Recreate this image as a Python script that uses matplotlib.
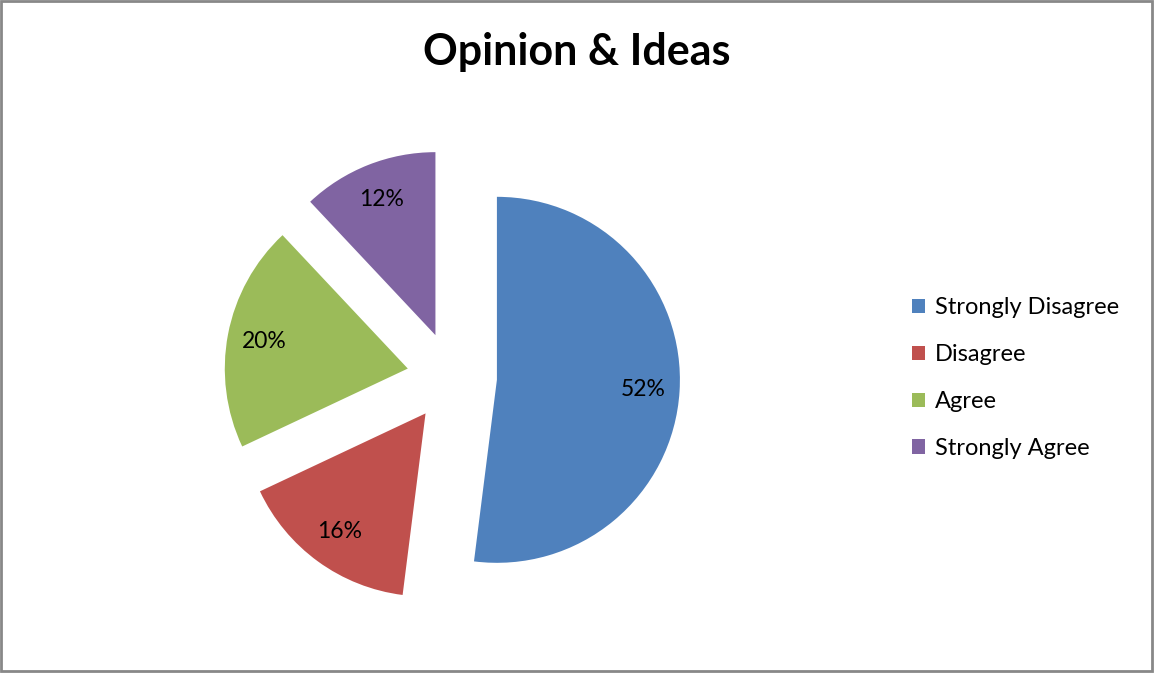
import matplotlib.pyplot as plt
from matplotlib.patches import Rectangle

# Datos
categorias = ["Strongly Disagree", "Disagree", "Agree", "Strongly Agree"]
valores = [52, 16, 20, 12]
colores = ["#4F81BD", "#C0504D", "#9BBB59", "#8064A2"]

plt.rcParams['font.family'] = ['Lato', 'DejaVu Sans']

W, H = 1155, 678
fig = plt.figure(figsize=(W / 100, H / 100), dpi=100)
ax = fig.add_axes([0, 0, 1, 1])

# borde gris del gráfico
ax.add_patch(Rectangle((1, H - 671), 1151, 670, fill=False, edgecolor="#888888", lw=2))

# explode va en unidades de datos (px), no en fracción del radio
wedges, _, autotexts = ax.pie(
    valores, colors=colores, startangle=90, counterclock=False,
    center=(452, H - 377), radius=183, explode=[45] * 4,
    autopct="%d%%", pctdistance=0.8,
    textprops={"fontsize": 16.5, "color": "black"},
    frame=True,
)
ax.set_xlim(0, W)
ax.set_ylim(0, H)
ax.set_aspect("equal")
ax.axis("off")

ax.text(577, H - 52, "Opinion & Ideas", ha="center", va="center",
        fontsize=31, fontweight="bold")

leg = ax.legend(wedges, categorias, loc="center left",
                bbox_to_anchor=(891 / W, 1 - 378 / H), frameon=False,
                fontsize=17, handlelength=0.55, handleheight=0.55,
                handletextpad=0.4, labelspacing=1.1)

fig.savefig("out.png", dpi=100)
